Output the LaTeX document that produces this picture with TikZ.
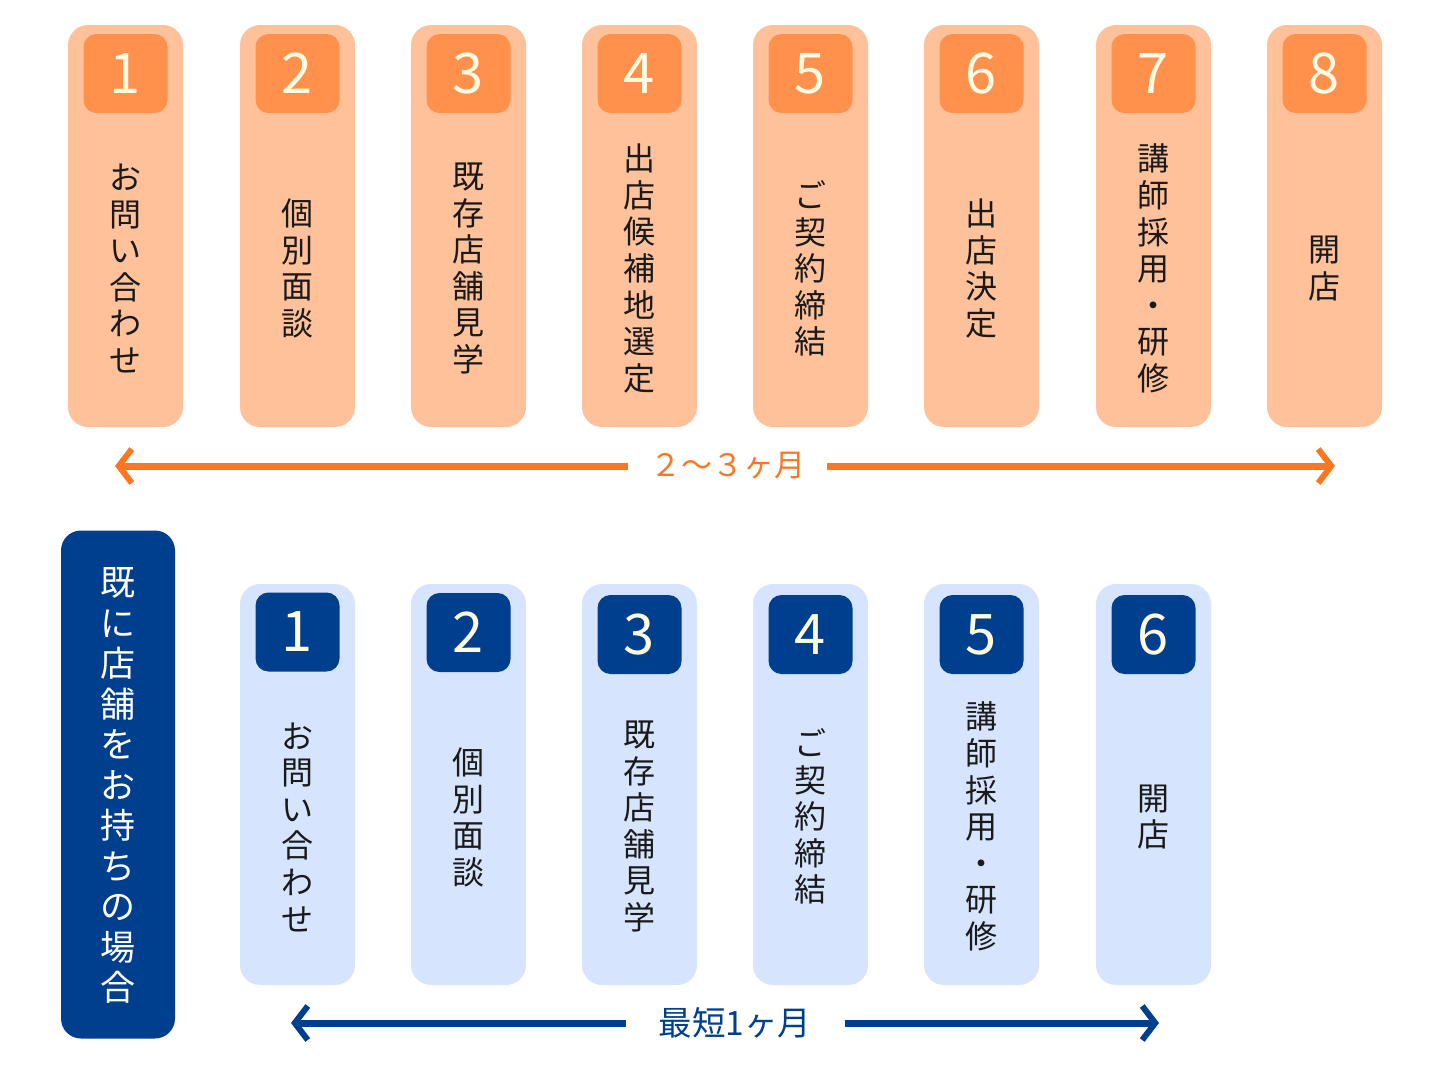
\documentclass[tikz,border=0pt]{standalone}
\usepackage{fontspec}
\setmainfont{Noto Sans CJK JP}
\usetikzlibrary{arrows.meta}
\definecolor{cardO}{HTML}{FFC19A}
\definecolor{numO}{HTML}{FF914D}
\definecolor{arrO}{HTML}{FF7621}
\definecolor{cardB}{HTML}{D6E5FD}
\definecolor{navy}{HTML}{003F8E}
\definecolor{cream}{HTML}{FFFBE3}
\definecolor{ink}{HTML}{1A1A1A}
\tikzset{
  ocard/.style={fill=cardO, rounded corners=20pt, minimum width=115pt, minimum height=402pt, inner sep=0pt},
  bcard/.style={fill=cardB, rounded corners=20pt, minimum width=115pt, minimum height=401pt, inner sep=0pt},
  onum/.style={fill=numO, rounded corners=13pt, minimum width=84pt, minimum height=79pt, inner sep=0pt,
    text=cream, font=\fontsize{56pt}{60pt}\selectfont},
  bnum/.style={fill=navy, rounded corners=13pt, minimum width=84pt, minimum height=79pt, inner sep=0pt,
    text=cream, font=\fontsize{56pt}{60pt}\selectfont},
  vtext/.style={align=center, inner sep=0pt, text=ink, font=\fontsize{32pt}{36.6pt}\selectfont},
  sidebox/.style={fill=navy, rounded corners=20pt, minimum width=114pt, minimum height=508pt, inner sep=0pt},
  sidetext/.style={align=center, inner sep=0pt, text=white, font=\fontsize{35pt}{40.5pt}\selectfont},
  olabel/.style={text=arrO, inner xsep=22pt, inner ysep=0pt, font=\fontsize{31pt}{36pt}\selectfont},
  blabel/.style={text=navy, inner xsep=33pt, inner ysep=0pt, font=\fontsize{33.5pt}{36pt}\selectfont},
  oarrow/.style={draw=arrO, line width=7pt, -{Straight Barb[length=13pt, width=34pt, line width=6pt]}},
  barrow/.style={draw=navy, line width=7pt, -{Straight Barb[length=13pt, width=34pt, line width=6pt]}},
}
\begin{document}
\begin{tikzpicture}[x=1pt,y=-1pt]
\useasboundingbox (0,0) rectangle (1449,1080);
% ---- top row ----
\foreach \i/\x in {1/125.5,2/297.5,3/468.5,4/639.5,5/810.5,6/981.5,7/1153.5,8/1324.5}{
  \node[ocard] (oc\i) at (\x,226) {};
  \node[onum] (on\i) at (\x,73.5) {\i};
}
\node[vtext] (ot1) at (125.5,268.5) {お\\問\\い\\合\\わ\\せ};
\node[vtext] (ot2) at (297.5,268.5) {個\\別\\面\\談};
\node[vtext] (ot3) at (468.5,268.5) {既\\存\\店\\舗\\見\\学};
\node[vtext] (ot4) at (639.5,268.5) {出\\店\\候\\補\\地\\選\\定};
\node[vtext] (ot5) at (810.5,268.5) {ご\\契\\約\\締\\結};
\node[vtext] (ot6) at (981.5,268.5) {出\\店\\決\\定};
\node[vtext] (ot7) at (1153.5,268.5) {講\\師\\採\\用\\・\\研\\修};
\node[vtext] (ot8) at (1324.5,268.5) {開\\店};
% top arrow
\node[olabel] (olab) at (727.5,466) {２〜３ヶ月};
\coordinate (oleft) at (115,466);
\coordinate (oright) at (1335,466);
\draw[oarrow] (olab.west) -- (oleft);
\draw[oarrow] (olab.east) -- (oright);
% ---- bottom row ----
\node[sidebox] (side) at (118,784.5) {};
\node[sidetext] (sidet) at (118,785.5) {既\\に\\店\\舗\\を\\お\\持\\ち\\の\\場\\合};
\foreach \i/\x/\ny in {1/297.5/632,2/468.5/632.5,3/639.5/634.5,4/810.5/634.5,5/981.5/634.5,6/1153.5/634.5}{
  \node[bcard] (bc\i) at (\x,784.5) {};
  \node[bnum] (bn\i) at (\x,\ny) {\i};
}
\node[vtext] (bt1) at (297.5,827) {お\\問\\い\\合\\わ\\せ};
\node[vtext] (bt2) at (468.5,817.5) {個\\別\\面\\談};
\node[vtext] (bt3) at (639.5,826.5) {既\\存\\店\\舗\\見\\学};
\node[vtext] (bt4) at (810.5,816.5) {ご\\契\\約\\締\\結};
\node[vtext] (bt5) at (981.5,826.5) {講\\師\\採\\用\\・\\研\\修};
\node[vtext] (bt6) at (1153.5,817) {開\\店};
% bottom arrow
\node[blabel] (blab) at (735,1023) {最短1ヶ月};
\coordinate (bleft) at (291,1023);
\coordinate (bright) at (1159,1023);
\draw[barrow] (blab.west) -- (bleft);
\draw[barrow] (blab.east) -- (bright);
\end{tikzpicture}
\end{document}
